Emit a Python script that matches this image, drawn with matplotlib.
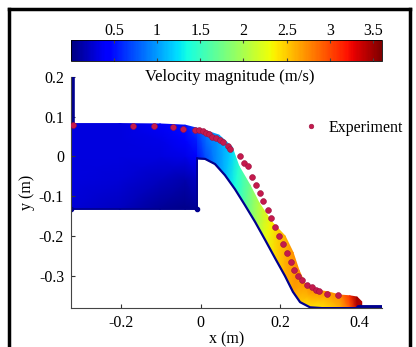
import numpy as np
import matplotlib.pyplot as plt
from matplotlib.lines import Line2D

plt.rcParams['font.family'] = ['Liberation Serif', 'DejaVu Serif']

# measured free-surface points (experiment)
exp_x = [-0.322, -0.171, -0.117, -0.070, -0.044, -0.014, -0.004, 0.005, 0.013, 0.020,
         0.028, 0.038, 0.049, 0.057, 0.068, 0.075, 0.100, 0.109, 0.118, 0.128,
         0.140, 0.148, 0.157, 0.169, 0.178, 0.186, 0.197, 0.208, 0.216, 0.226,
         0.235, 0.246, 0.255, 0.267, 0.279, 0.290, 0.298, 0.318, 0.346]
exp_y = [0.079, 0.078, 0.076, 0.075, 0.070, 0.067, 0.068, 0.064, 0.060, 0.056,
         0.050, 0.047, 0.042, 0.036, 0.026, 0.018, 0.000, -0.016, -0.024, -0.051,
         -0.071, -0.092, -0.113, -0.136, -0.156, -0.178, -0.200, -0.221, -0.243, -0.265,
         -0.285, -0.300, -0.311, -0.324, -0.329, -0.336, -0.340, -0.346, -0.349]

# simulated flow over the spillway: bed line and free surface at the same stations
bed_x = [-0.008, 0.011, 0.036, 0.061, 0.086, 0.111, 0.137, 0.162, 0.187, 0.212,
         0.232, 0.250, 0.275, 0.305, 0.350, 0.375, 0.393, 0.405]
bed_y = [-0.005, -0.006, -0.019, -0.047, -0.082, -0.122, -0.165, -0.210, -0.256, -0.301,
         -0.341, -0.367, -0.380, -0.382, -0.382, -0.382, -0.382, -0.382]
surf_x = [-0.008, 0.016, 0.046, 0.079, 0.096, 0.124, 0.147, 0.179, 0.212, 0.232,
          0.247, 0.262, 0.287, 0.320, 0.350, 0.375, 0.393, 0.405]
surf_y = [0.071, 0.064, 0.054, 0.024, -0.024, -0.072, -0.117, -0.165, -0.200, -0.241,
          -0.286, -0.319, -0.336, -0.341, -0.349, -0.351, -0.354, -0.366]
vel_bed = [0.5, 0.7, 0.9, 1.1, 1.35, 1.65, 1.95, 2.25, 2.45, 2.6,
           2.65, 2.5, 2.4, 2.4, 2.6, 2.9, 3.4, 3.5]
vel_surf = [0.7, 0.9, 1.0, 1.2, 1.45, 1.75, 2.05, 2.35, 2.6, 2.7,
            2.75, 2.7, 2.75, 2.7, 2.75, 3.1, 3.5, 3.4]

# reservoir upstream of the weir
res_x = [-0.326, -0.203, -0.102, -0.039, -0.008]
res_y = [-0.133, -0.059, 0.0, 0.041]
res_top = [0.083, 0.083, 0.082, 0.079, 0.071]
res_vel = [[0.28, 0.2, 0.08, 0.04, 0.08],
           [0.3, 0.27, 0.2, 0.15, 0.22],
           [0.3, 0.3, 0.3, 0.33, 0.42],
           [0.3, 0.3, 0.33, 0.42, 0.55],
           [0.3, 0.3, 0.38, 0.5, 0.7]]

fig = plt.figure(figsize=(4.16, 3.47), dpi=100)
ax = fig.add_axes([0.1707, 0.1115, 0.7476, 0.6666])

norm = plt.Normalize(0, 3.6)
cmap = plt.get_cmap('jet')

# reservoir field
RX = np.array([res_x] * (len(res_y) + 1))
RY = np.array([[yy] * len(res_x) for yy in res_y] + [res_top])
ax.pcolormesh(RX, RY, np.array(res_vel), cmap=cmap, norm=norm, shading='gouraud')

# spillway field
FX = np.array([bed_x, surf_x])
FY = np.array([bed_y, surf_y])
FC = np.array([vel_bed, vel_surf])
pc = ax.pcolormesh(FX, FY, FC, cmap=cmap, norm=norm, shading='gouraud')

navy = '#00008f'
# boundaries
ax.plot(bed_x + [0.456], bed_y + [-0.382], color=navy, lw=1.6, solid_capstyle='round')
ax.plot([0.395, 0.456], [-0.380, -0.380], color=navy, lw=3.5, solid_capstyle='round')
ax.plot([-0.008, -0.008], [-0.133, -0.005], color=navy, lw=1.2)
ax.plot([-0.326, -0.008], [-0.133, -0.133], color=navy, lw=1.2)
ax.plot([-0.326, -0.008], [-0.133, -0.133], 'o', color=navy, ms=3)
ax.plot([-0.322, -0.322], [0.075, 0.2], color=navy, lw=2.6, solid_capstyle='round')

ax.plot(exp_x, exp_y, 'o', color='#c41a4c', ms=4.2, mec='#9c1040', mew=0.4,
        label='Experiment', zorder=5)

ax.set_xlim(-0.326, 0.456)
ax.set_ylim(-0.3825, 0.2003)
ax.set_xticks([-0.2, 0, 0.2, 0.4])
ax.set_xticklabels(['-0.2', '0', '0.2', '0.4'])
ax.set_yticks([-0.3, -0.2, -0.1, 0, 0.1, 0.2])
ax.set_yticklabels(['-0.3', '-0.2', '-0.1', '0', '0.1', '0.2'])
ax.tick_params(direction='in', length=3, labelsize=11.5, pad=5, color='#333333')
for s in ['top', 'right']:
    ax.spines[s].set_visible(False)
for s in ['left', 'bottom']:
    ax.spines[s].set_color('#444444')
    ax.spines[s].set_linewidth(0.8)
ax.set_xlabel('x (m)', fontsize=11.5, labelpad=0)
ax.set_ylabel('y (m)', fontsize=11.5, labelpad=3)

ax.legend(loc='center left', bbox_to_anchor=(0.70, 0.78), frameon=False,
          fontsize=11.5, handlelength=1.0, handletextpad=0.6, markerscale=0.8)

# colorbar on top
cax = fig.add_axes([0.170, 0.8242, 0.7476, 0.0605])
cb = fig.colorbar(pc, cax=cax, orientation='horizontal', ticks=[0.5, 1, 1.5, 2, 2.5, 3, 3.5])
cb.ax.set_xticklabels(['0.5', '1', '1.5', '2', '2.5', '3', '3.5'])
cax.tick_params(direction='in', top=True, bottom=True, labeltop=True, labelbottom=False,
                length=2.5, labelsize=11.5, pad=1, color='#444444')
cb.outline.set_linewidth(0.6)
fig.text(0.553, 1 - 77 / 347, 'Velocity magnitude (m/s)', ha='center', va='center', fontsize=12)

# image frame
fw = 2.5
fig.add_artist(Line2D([9 / 416, 9 / 416], [0, 1 - 9 / 347], color='black', lw=fw))
fig.add_artist(Line2D([9 / 416, 410 / 416], [1 - 9 / 347, 1 - 9 / 347], color='black', lw=fw))
fig.add_artist(Line2D([410 / 416, 410 / 416], [0, 1 - 9 / 347], color='black', lw=fw))

fig.savefig('out.png', dpi=100)
